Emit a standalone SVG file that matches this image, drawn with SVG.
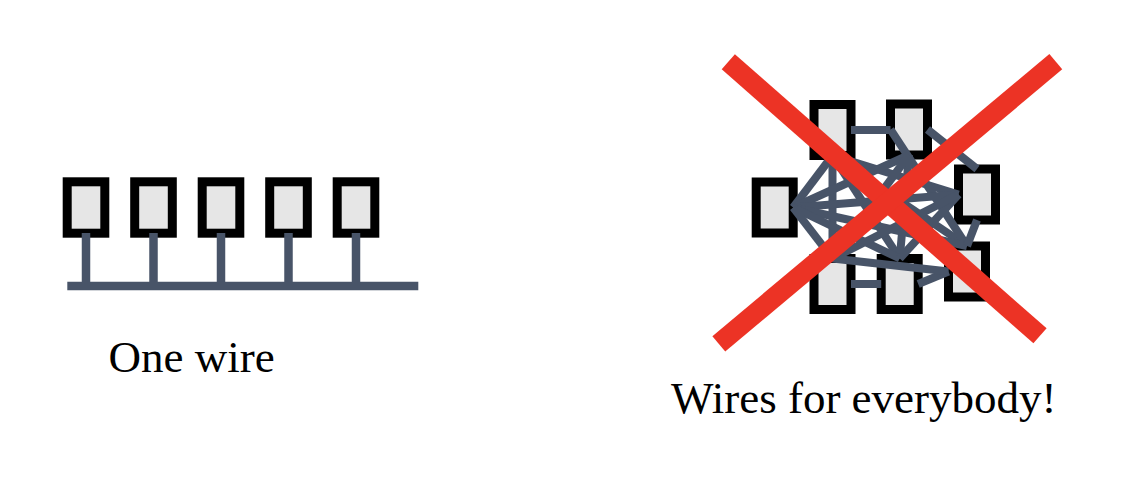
<svg xmlns="http://www.w3.org/2000/svg" width="1134" height="496" viewBox="0 0 1134 496">
<style>
.box{fill:#e6e6e6;stroke:#000;stroke-width:9}
.w{stroke:#485468;stroke-width:8.5;fill:none}
.n{stroke:#485468;stroke-width:8;fill:none}
.x{stroke:#ec3325;stroke-width:20;stroke-linecap:butt}
.t{font-family:"Liberation Serif","Times New Roman",serif;font-size:45px;fill:#000}
</style>
<rect width="1134" height="496" fill="#fff"/>
<g id="bus-nodes">
<g id="b1"><rect class="box" x="67.2" y="181.8" width="37.6" height="51.4"/></g>
<g id="b2"><rect class="box" x="134.7" y="181.8" width="37.6" height="51.4"/></g>
<g id="b3"><rect class="box" x="202.2" y="181.8" width="37.6" height="51.4"/></g>
<g id="b4"><rect class="box" x="269.7" y="181.8" width="37.6" height="51.4"/></g>
<g id="b5"><rect class="box" x="337.2" y="181.8" width="37.6" height="51.4"/></g>
</g>
<g id="bus-wires">
<line class="w" x1="86" y1="233" x2="86" y2="286"/>
<line class="w" x1="153.5" y1="233" x2="153.5" y2="286"/>
<line class="w" x1="221" y1="233" x2="221" y2="286"/>
<line class="w" x1="288.5" y1="233" x2="288.5" y2="286"/>
<line class="w" x1="356" y1="233" x2="356" y2="286"/>
<line class="w" x1="67.3" y1="286" x2="418.3" y2="286" stroke-width="9"/>
</g>
<text class="t" x="108.5" y="372">One wire</text>
<g id="mesh-nodes">
<g id="nA"><rect class="box" x="814" y="104.5" width="37" height="51"/></g>
<g id="nB"><rect class="box" x="890.5" y="104" width="37" height="51"/></g>
<g id="nC"><rect class="box" x="756.2" y="182" width="37" height="51"/></g>
<g id="nD"><rect class="box" x="958.5" y="169" width="37" height="51"/></g>
<g id="nE"><rect class="box" x="948.5" y="246" width="37" height="51"/></g>
<g id="nF"><rect class="box" x="881.2" y="258.5" width="37" height="51"/></g>
<g id="nG"><rect class="box" x="814" y="258.5" width="37" height="51"/></g>
</g>
<g id="mesh-wires">
<line class="n" x1="851" y1="130" x2="890.5" y2="130"/>
<line class="n" x1="832.5" y1="155.5" x2="793.2" y2="207.5"/>
<line class="n" x1="832.5" y1="155.5" x2="958.5" y2="194.5"/>
<line class="n" x1="832.5" y1="155.5" x2="967" y2="246"/>
<line class="n" x1="832.5" y1="155.5" x2="899.7" y2="258.5"/>
<line class="n" x1="832.5" y1="155.5" x2="832.5" y2="258.5"/>
<line class="n" x1="909" y1="155" x2="793.2" y2="207.5"/>
<line class="n" x1="927.5" y1="129.5" x2="977" y2="169"/>
<line class="n" x1="890.5" y1="129.5" x2="967" y2="246"/>
<line class="n" x1="909" y1="155" x2="899.7" y2="258.5"/>
<line class="n" x1="909" y1="155" x2="832.5" y2="258.5"/>
<line class="n" x1="793.2" y1="207.5" x2="958.5" y2="194.5"/>
<line class="n" x1="793.2" y1="207.5" x2="967" y2="246"/>
<line class="n" x1="793.2" y1="207.5" x2="899.7" y2="258.5"/>
<line class="n" x1="793.2" y1="207.5" x2="832.5" y2="258.5"/>
<line class="n" x1="977" y1="220" x2="967" y2="246"/>
<line class="n" x1="958.5" y1="194.5" x2="899.7" y2="258.5"/>
<line class="n" x1="958.5" y1="194.5" x2="832.5" y2="258.5"/>
<line class="n" x1="918.2" y1="284" x2="948.5" y2="271.5"/>
<line class="n" x1="832.5" y1="258.5" x2="948.5" y2="271.5"/>
<line class="n" x1="851" y1="284" x2="881.2" y2="284"/>
</g>
<g id="cross">
<line class="x" x1="728.3" y1="61.7" x2="1040" y2="335.8"/>
<line class="x" x1="1055.8" y1="61.7" x2="718.8" y2="343.8"/>
</g>
<text class="t" x="671" y="413.3">Wires for everybody!</text>
</svg>
